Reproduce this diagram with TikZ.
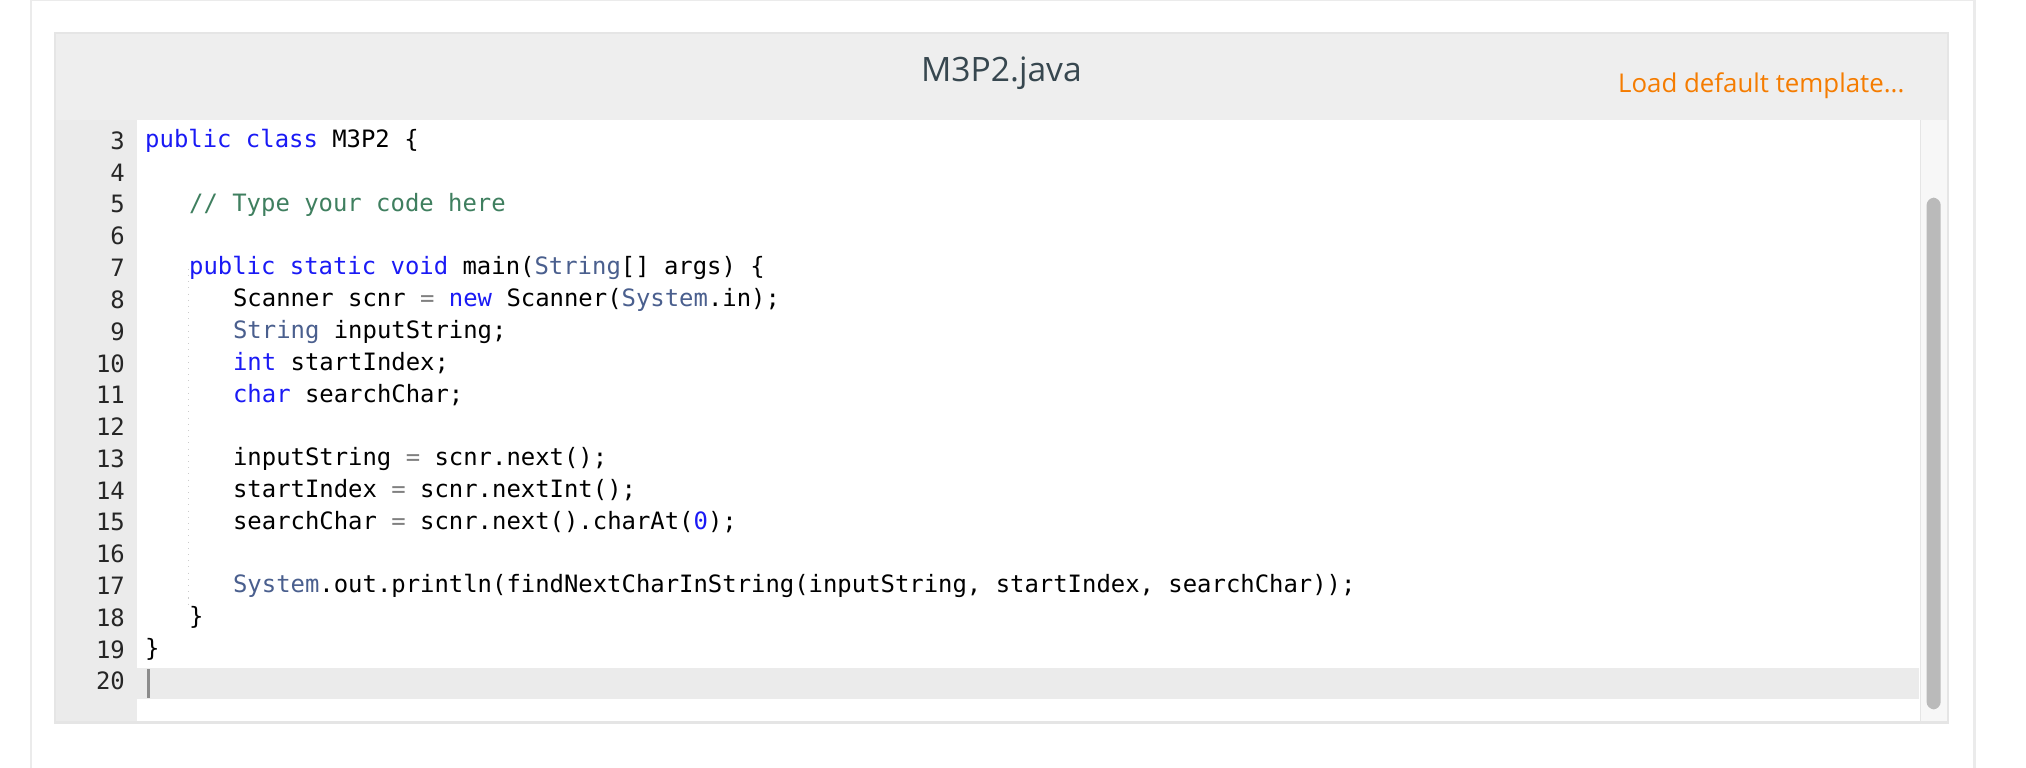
\documentclass[tikz,border=0pt]{standalone}
\usepackage{fontspec}
\setmainfont{Open Sans}
\newfontfamily\codef{DejaVu Sans Mono}
\definecolor{kw}{HTML}{1A1AF5}
\definecolor{ty}{HTML}{4A5F8E}
\definecolor{cm}{HTML}{3F7F5F}
\definecolor{hdr}{HTML}{EEEEEE}
\definecolor{gut}{HTML}{EBEBEB}
\definecolor{orng}{HTML}{F57C00}
\definecolor{ttl}{HTML}{37474F}
\newcommand{\K}[1]{\textcolor{kw}{#1}}
\newcommand{\T}[1]{\textcolor{ty}{#1}}
\newcommand{\G}[1]{\textcolor{gray}{#1}}
\begin{document}
\begin{tikzpicture}[x=0.5pt,y=-0.5pt,
  code/.style={anchor=west,inner sep=0pt,font=\codef\fontsize{9.25pt}{11pt}\selectfont},
  lnum/.style={anchor=east,inner sep=0pt,font=\codef\fontsize{9.25pt}{11pt}\selectfont,text=black!85}]
\useasboundingbox (0,0) rectangle (1568,594);
\fill[white] (0,0) rectangle (1568,594);
\draw[black!8,line width=1pt] (24,0) -- (24,594);
\draw[black!8,line width=1pt] (1528,0) -- (1528,594);
\draw[black!8,line width=0.6pt] (24,0.5) -- (1528,0.5);
% panel shadow
\fill[black!10] (42,25) rectangle (1508,560);
\fill[hdr] (43,26) rectangle (1507,93);
\fill[white] (43,93) rectangle (1507,558);
\fill[gut] (43,93) rectangle (106,558);
\fill[gut] (106,517) rectangle (1485,541);
\fill[black!3] (1486,93) rectangle (1507,558);
\draw[black!10] (1486,93) -- (1486,558);
\fill[black!27,rounded corners=3pt] (1491,153) rectangle (1502,549);
\draw[black!45,line width=1.2pt] (115,518) -- (115,540);
\draw[black!20,dotted] (146,208) -- (146,470);
\node[font=\fontsize{13pt}{15pt}\selectfont,text=ttl] (title) at (775,57) {M3P2.java};
\node[anchor=east,font=\fontsize{10pt}{12pt}\selectfont,text=orng] (load) at (1481,66) {Load default template...};
\foreach \n [evaluate=\n as \yy using {109+24.6*(\n-3)}] in {3,...,20}
  \node[lnum] (n\n) at (97,\yy) {\n};
\def\Y#1{109+24.6*(#1-3)}
\node[code] (c3) at (112,{\Y{3}}) {\K{public} \K{class} M3P2 \{};
\node[code] (c5) at (146,{\Y{5}}) {\textcolor{cm}{// Type your code here}};
\node[code] (c7) at (146,{\Y{7}}) {\K{public} \K{static} \K{void} main(\T{String}[] args) \{};
\node[code] (c8) at (180,{\Y{8}}) {Scanner scnr \G{=} \K{new} Scanner(\T{System}.in);};
\node[code] (c9) at (180,{\Y{9}}) {\T{String} inputString;};
\node[code] (c10) at (180,{\Y{10}}) {\K{int} startIndex;};
\node[code] (c11) at (180,{\Y{11}}) {\K{char} searchChar;};
\node[code] (c13) at (180,{\Y{13}}) {inputString \G{=} scnr.next();};
\node[code] (c14) at (180,{\Y{14}}) {startIndex \G{=} scnr.nextInt();};
\node[code] (c15) at (180,{\Y{15}}) {searchChar \G{=} scnr.next().charAt(\K{0});};
\node[code] (c17) at (180,{\Y{17}}) {\T{System}.out.println(findNextCharInString(inputString, startIndex, searchChar));};
\node[code] (c18) at (146,{\Y{18}}) {\}};
\node[code] (c19) at (112,{\Y{19}}) {\}};
\end{tikzpicture}
\end{document}
